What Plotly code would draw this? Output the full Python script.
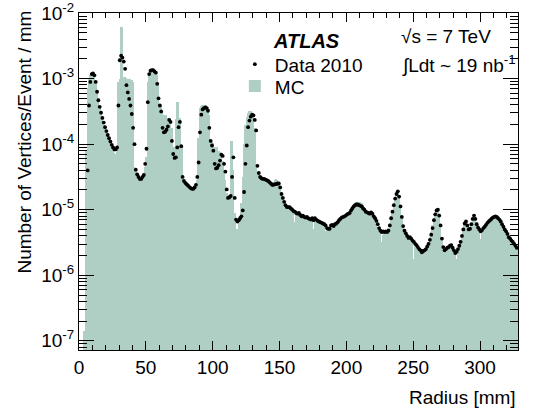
import plotly.graph_objects as go

# log10 of "Number of Vertices/Event / mm", one value per 1 mm radius bin (0..328 mm)
data_log10 = [
    None, None, None, None, None, None, -4.40, -3.41, -3.05, -2.93,
    -2.92, -2.95, -3.05, -3.20, -3.33, -3.43, -3.52, -3.60, -3.67, -3.74,
    -3.80, -3.86, -3.91, -3.96, -4.01, -4.05, -4.08, -4.08, -4.05, -3.41,
    -2.72, -2.65, -2.68, -2.74, -2.85, -3.10, -3.21, -3.31, -3.41, -3.54,
    -3.75, -4.00, -4.39, -4.46, -4.50, -4.53, -4.53, -4.50, -4.47, -4.30,
    -4.07, -3.36, -2.93, -2.88, -2.87, -2.87, -2.89, -2.91, -3.08, -3.30,
    -3.41, -3.50, -3.75, -3.82, -3.81, -3.78, -3.73, -3.63, -3.66, -3.95,
    -4.15, -4.21, -4.20, -4.05, -3.74, -3.66, -4.03, -4.50, -4.56, -4.59,
    -4.61, -4.63, -4.65, -4.67, -4.68, -4.68, -4.66, -4.62, -4.50, -4.28,
    -3.82, -3.55, -3.47, -3.45, -3.44, -3.45, -3.49, -3.75, -3.95, -4.02,
    -4.10, -4.30, -4.37, -4.36, -4.32, -4.25, -4.16, -4.18, -4.30, -4.42,
    -4.69, -4.82, -4.81, -4.79, -4.50, -4.20, -4.82, -5.15, -5.18, -5.16,
    -5.13, -5.10, -5.01, -4.73, -4.30, -4.02, -3.74, -3.64, -3.58, -3.55,
    -3.56, -3.63, -3.79, -4.33, -4.44, -4.50, -4.52, -4.53, -4.53, -4.54,
    -4.55, -4.56, -4.58, -4.60, -4.62, -4.62, -4.61, -4.61, -4.60, -4.60,
    -4.66, -4.76, -4.82, -4.88, -4.93, -4.96, -4.96, -4.96, -4.98, -5.00,
    -5.02, -5.03, -5.05, -5.06, -5.05, -5.08, -5.10, -5.09, -5.11, -5.12,
    -5.11, -5.13, -5.14, -5.15, -5.13, -5.16, -5.13, -5.15, -5.17, -5.18,
    -5.19, -5.20, -5.21, -5.22, -5.24, -5.28, -5.29, -5.29, -5.24, -5.23,
    -5.25, -5.22, -5.21, -5.19, -5.16, -5.14, -5.12, -5.11, -5.10, -5.09,
    -5.07, -5.06, -5.05, -5.01, -4.98, -4.95, -4.93, -4.92, -4.92, -4.93,
    -4.94, -4.95, -4.98, -5.00, -5.03, -5.04, -5.05, -5.06, -5.04, -5.06,
    -5.10, -5.13, -5.17, -5.22, -5.28, -5.32, -5.34, -5.33, -5.34, -5.33,
    -5.34, -5.32, -5.24, -5.13, -5.03, -4.93, -4.83, -4.76, -4.72, -4.80,
    -4.95, -5.11, -5.25, -5.32, -5.36, -5.40, -5.43, -5.42, -5.44, -5.47,
    -5.49, -5.52, -5.54, -5.57, -5.60, -5.62, -5.65, -5.63, -5.62, -5.60,
    -5.56, -5.52, -5.46, -5.38, -5.28, -5.16, -5.07, -5.01, -5.00, -5.09,
    -5.24, -5.44, -5.57, -5.62, -5.60, -5.58, -5.57, -5.55, -5.54, -5.58,
    -5.62, -5.66, -5.64, -5.60, -5.55, -5.49, -5.40, -5.30, -5.21, -5.18,
    -5.24, -5.30, -5.29, -5.22, -5.14, -5.09, -5.14, -5.22, -5.27, -5.30,
    -5.33, -5.31, -5.28, -5.26, -5.23, -5.20, -5.18, -5.16, -5.14, -5.12,
    -5.11, -5.10, -5.11, -5.13, -5.15, -5.18, -5.22, -5.26, -5.30, -5.33,
    -5.37, -5.42, -5.44, -5.47, -5.49, -5.52, -5.55, -5.58,
]

mc_log10 = [
    None, None, None, -6.85, -6.85, -4.10, -3.15, -3.00, -2.95, -2.92,
    -2.93, -2.97, -3.08, -3.22, -3.35, -3.45, -3.54, -3.62, -3.70, -3.77,
    -3.83, -3.88, -3.94, -3.99, -4.04, -4.09, -4.13, -4.15, -4.12, -3.05,
    -3.00, -2.22, -2.22, -2.98, -2.98, -2.99, -3.00, -3.00, -3.00, -3.02,
    -3.05, -4.35, -4.42, -4.47, -4.50, -4.52, -4.52, -4.50, -4.46, -4.35,
    -4.20, -3.05, -2.92, -2.90, -2.89, -2.89, -2.90, -2.91, -2.95, -3.05,
    -3.39, -3.42, -3.50, -3.55, -3.55, -3.56, -3.60, -3.62, -3.65, -3.75,
    -4.30, -4.05, -3.62, -3.36, -3.36, -3.60, -4.02, -4.05, -4.55, -4.60,
    -4.62, -4.64, -4.66, -4.68, -4.69, -4.69, -4.67, -4.63, -4.55, -3.90,
    -3.45, -3.42, -3.41, -3.40, -3.40, -3.41, -3.43, -3.55, -3.95, -3.97,
    -3.98, -4.05, -4.08, -4.05, -4.10, -4.12, -4.15, -4.25, -4.45, -4.55,
    -4.75, -4.80, -4.78, -3.95, -3.95, -4.40, -5.05, -5.35, -5.30, -5.20,
    -5.10, -4.90, -4.50, -4.00, -3.70, -3.58, -3.52, -3.50, -3.50, -3.52,
    -3.58, -3.75, -4.30, -4.42, -4.47, -4.50, -4.51, -4.52, -4.52, -4.53,
    -4.54, -4.56, -4.57, -4.58, -4.60, -4.58, -4.55, -4.53, -4.55, -4.58,
    -4.65, -4.74, -4.80, -4.86, -4.92, -4.95, -4.96, -4.97, -4.99, -5.01,
    -5.02, -5.18, -5.05, -5.05, -5.06, -5.08, -5.08, -5.10, -5.10, -5.12,
    -5.12, -5.13, -5.13, -5.14, -5.15, -5.29, -5.15, -5.16, -5.17, -5.18,
    -5.19, -5.20, -5.21, -5.22, -5.33, -5.27, -5.28, -5.28, -5.26, -5.37,
    -5.25, -5.23, -5.21, -5.19, -5.25, -5.13, -5.12, -5.10, -5.08, -5.06,
    -5.05, -5.03, -5.01, -4.98, -4.95, -4.92, -4.90, -4.88, -4.88, -4.89,
    -4.88, -4.90, -4.93, -4.96, -5.00, -5.02, -5.03, -5.04, -5.05, -5.08,
    -5.12, -5.16, -5.21, -5.27, -5.32, -5.36, -5.49, -5.38, -5.36, -5.35,
    -5.33, -5.28, -5.20, -5.10, -5.00, -4.90, -4.80, -4.74, -4.73, -4.82,
    -4.97, -5.12, -5.25, -5.32, -5.36, -5.40, -5.42, -5.43, -5.45, -5.47,
    -5.75, -5.52, -5.54, -5.57, -5.59, -5.62, -5.63, -5.63, -5.61, -5.58,
    -5.54, -5.49, -5.42, -5.34, -5.24, -5.13, -5.05, -5.00, -5.02, -5.11,
    -5.26, -5.44, -5.55, -5.60, -5.60, -5.58, -5.57, -5.55, -5.55, -5.58,
    -5.61, -5.63, -5.75, -5.59, -5.53, -5.46, -5.38, -5.28, -5.20, -5.17,
    -5.22, -5.27, -5.26, -5.20, -5.13, -5.08, -5.12, -5.19, -5.24, -5.27,
    -5.44, -5.29, -5.26, -5.24, -5.21, -5.18, -5.16, -5.14, -5.12, -5.10,
    -5.09, -5.09, -5.10, -5.12, -5.14, -5.17, -5.21, -5.25, -5.29, -5.33,
    -5.37, -5.41, -5.44, -5.47, -5.50, -5.75, -5.55, -5.58,
]

bin_width_mm = 1.0
radius_centers = [bin_width_mm * (i + 0.5) for i in range(len(data_log10))]
data_vals = [None if v is None else 10 ** v for v in data_log10]
mc_vals = [None if v is None else 10 ** v for v in mc_log10]

x_ticks = [0, 50, 100, 150, 200, 250, 300]
y_tick_exps = [-7, -6, -5, -4, -3, -2]

MC_COLOR = "#b0cfc4"
FONT = "Liberation Sans, Arial, sans-serif"
FS = 19

fig = go.Figure()
fig.add_trace(go.Bar(
    x=radius_centers, y=mc_vals, width=bin_width_mm, name="MC",
    marker=dict(color=MC_COLOR, line=dict(width=0)), legend="legend2",
))
fig.add_trace(go.Scatter(
    x=radius_centers, y=data_vals, mode="markers", name="Data 2010",
    marker=dict(color="black", size=3.8), legend="legend",
))

legend_common = dict(
    xanchor="left", yanchor="top", bgcolor="rgba(0,0,0,0)",
    font=dict(size=FS), itemsizing="trace",
)

fig.update_layout(
    width=540, height=416,
    margin=dict(l=79, r=22, t=13, b=66, autoexpand=False),
    paper_bgcolor="white", plot_bgcolor="white",
    bargap=0,
    font=dict(family=FONT, size=FS, color="black"),
    showlegend=True,
    legend=dict(x=0.355, y=0.904, **legend_common),
    legend2=dict(x=0.355, y=0.839, **legend_common),
    xaxis=dict(
        range=[0, 328.4], tickvals=x_ticks, ticks="inside", ticklen=9,
        tickcolor="black", showline=True, linecolor="black", linewidth=1,
        mirror="allticks", showgrid=False, zeroline=False, automargin=False,
        tickfont=dict(size=FS), ticklabeloverflow="allow",
        minor=dict(ticks="inside", ticklen=5, dtick=10, tickcolor="black", showgrid=False),
    ),
    yaxis=dict(
        type="log", range=[-7.14, -1.999],
        tickvals=[10 ** e for e in y_tick_exps],
        ticktext=["10<sup>%d</sup>" % e for e in y_tick_exps],
        ticks="inside", ticklen=15, tickcolor="black",
        showline=True, linecolor="black", linewidth=1, mirror="allticks",
        showgrid=False, zeroline=False, tickfont=dict(size=FS),
        ticklabeloverflow="allow", automargin=False,
        minor=dict(ticks="inside", ticklen=8, dtick="D1", tickcolor="black", showgrid=False),
    ),
)

fig.add_annotation(
    text="Number of Vertices/Event / mm", textangle=-90,
    xref="paper", yref="paper", x=-0.125, y=1.012,
    xanchor="center", yanchor="top", showarrow=False, font=dict(size=FS),
)
fig.add_annotation(
    text="Radius [mm]", xref="paper", yref="paper", x=1.0, y=-0.14,
    xanchor="right", yanchor="middle", showarrow=False, font=dict(size=FS),
)
fig.add_annotation(
    text="<b><i>ATLAS</i></b>", xref="paper", yref="paper", x=0.519, y=0.918,
    xanchor="center", yanchor="middle", showarrow=False, font=dict(size=20),
)
fig.add_annotation(
    text="√s = 7 TeV", xref="paper", yref="paper", x=0.729, y=0.929,
    xanchor="left", yanchor="middle", showarrow=False, font=dict(size=FS),
)
fig.add_annotation(
    text="∫Ldt ~ 19 nb<sup>-1</sup>", xref="paper", yref="paper", x=0.731, y=0.846,
    xanchor="left", yanchor="middle", showarrow=False, font=dict(size=FS),
)

fig.write_html("out.html")
